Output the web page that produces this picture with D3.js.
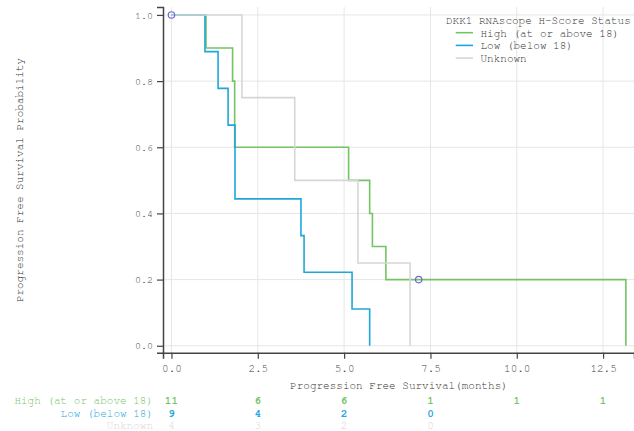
<!DOCTYPE html>
<html>
<head>
<meta charset="utf-8">
<script src="https://cdn.jsdelivr.net/npm/d3@7"></script>
<style>
  body { margin: 0; background: #fff; }
  svg { font-family: "Nimbus Mono PS", "Nimbus Mono L", FreeMono, "Courier New", Courier, "Liberation Mono", monospace; }
  .grid line { stroke: #e6e6e6; stroke-width: 1; }
  .axis path, .axis line { stroke: #444; }
  .axis path { stroke-width: 1.5; }
  .axis text { fill: #444; }
</style>
</head>
<body>
<svg id="chart" width="634" height="431"></svg>
<script>
// Kaplan-Meier steps
var groups = ["High (at or above 18)", "Low (below 18)", "Unknown"];
var colors = ["#74c365", "#1fa6dc", "#d6d6d6"];

var highTimes = [0, 1.0, 1.77, 1.83, 5.13, 5.74, 5.82, 6.21, 13.16];
var highSurv  = [1, 0.9, 0.8, 0.6, 0.5, 0.4, 0.3, 0.2, 0];
var lowTimes  = [0, 0.97, 1.35, 1.64, 1.84, 3.75, 3.84, 5.23, 5.74];
var lowSurv   = [1, 0.889, 0.778, 0.667, 0.444, 0.333, 0.222, 0.111, 0];
var unkTimes  = [0, 2.04, 3.57, 5.40, 6.91];
var unkSurv   = [1, 0.75, 0.5, 0.25, 0];

// censoring marks
var censorTimes = [0, 7.16];
var censorSurv  = [1.0, 0.2];

// numbers at risk
var riskTicks   = [0, 2.5, 5, 7.5, 10, 12.5];
var highAtRisk  = [11, 6, 6, 1, 1, 1];
var lowAtRisk   = [9, 4, 2, 0];
var unkAtRisk   = [4, 3, 2, 0];

var xTicks = [0, 2.5, 5, 7.5, 10, 12.5];
var yTicks = [0, 0.2, 0.4, 0.6, 0.8, 1.0];

var svg = d3.select("#chart");

var x = d3.scaleLinear().domain([-0.245, 13.395]).range([163, 634]);
var y = d3.scaleLinear().domain([-0.021, 1.024]).range([352.7, 7]);

// grid
var grid = svg.append("g").attr("class", "grid");
grid.selectAll(".vg").data(xTicks).enter().append("line")
    .attr("x1", d => x(d)).attr("x2", d => x(d))
    .attr("y1", y.range()[1]).attr("y2", y.range()[0]);
grid.selectAll(".hg").data(yTicks).enter().append("line")
    .attr("x1", x.range()[0]).attr("x2", x.range()[1])
    .attr("y1", d => y(d)).attr("y2", d => y(d));

// axes
var xAxis = svg.append("g").attr("class", "axis")
    .attr("transform", "translate(0," + y.range()[0] + ")")
    .call(d3.axisBottom(x).tickValues(xTicks).tickFormat(d3.format(".1f")).tickSizeOuter(0).tickSize(6).tickPadding(6));
xAxis.attr("font-family", null);
xAxis.selectAll("text").style("font-size", "11px");

var yAxis = svg.append("g").attr("class", "axis")
    .attr("transform", "translate(" + x.range()[0] + ",0)")
    .call(d3.axisLeft(y).tickValues(yTicks).tickFormat(d3.format(".1f")).tickSizeOuter(0).tickSize(6).tickPadding(4));
yAxis.attr("font-family", null);
yAxis.selectAll("text").style("font-size", "10px");
yAxis.selectAll(".tick line").attr("stroke-width", 1.2);
xAxis.selectAll(".tick line").attr("stroke-width", 1.2);

// curves
var series = [
  { t: highTimes, s: highSurv },
  { t: lowTimes,  s: lowSurv },
  { t: unkTimes,  s: unkSurv }
];
var line = d3.line().curve(d3.curveStepAfter).x(d => x(d[0])).y(d => y(d[1]));

series.forEach(function(ser, i) {
  var pts = ser.t.map((t, j) => [t, ser.s[j]]);
  svg.append("path")
      .datum(pts)
      .attr("d", line)
      .attr("fill", "none")
      .attr("stroke", colors[i])
      .attr("stroke-width", 1.6);
});

// censor marks
svg.selectAll(".censor").data(censorTimes).enter().append("circle")
    .attr("cx", d => x(d))
    .attr("cy", (d, i) => y(censorSurv[i]))
    .attr("r", 3.2)
    .attr("fill", "none")
    .attr("stroke", "#6b6bd0")
    .attr("stroke-width", 1.2);

// axis titles
svg.append("text")
    .attr("x", 399).attr("y", 389)
    .attr("text-anchor", "middle")
    .style("font-size", "11px").attr("fill", "#333")
    .text("Progression Free Survival(months)");

svg.append("text")
    .attr("transform", "translate(23,180) rotate(-90)")
    .attr("text-anchor", "middle")
    .style("font-size", "11px").attr("fill", "#333")
    .text("Progression Free Survival Probability");

// legend
var legend = svg.append("g");
legend.append("text")
    .attr("x", 446).attr("y", 24)
    .style("font-size", "11px").attr("fill", "#333")
    .text("DKK1 RNAscope H-Score Status");
groups.forEach(function(g, i) {
  var ly = 32.7 + i * 12.7;
  legend.append("line")
      .attr("x1", 455.7).attr("x2", 473)
      .attr("y1", ly).attr("y2", ly)
      .attr("stroke", colors[i]).attr("stroke-width", 1.6);
  legend.append("text")
      .attr("x", 480.5).attr("y", ly + 3.8)
      .style("font-size", "11px").attr("fill", "#333")
      .text(g);
});

// at-risk table
var riskRows = [highAtRisk, lowAtRisk, unkAtRisk];
riskRows.forEach(function(row, i) {
  var ry = 404 + i * 12.5;
  svg.append("text")
      .attr("x", 153).attr("y", ry)
      .attr("text-anchor", "end")
      .style("font-size", "11px").attr("fill", colors[i])
      .text(groups[i]);
  svg.selectAll(".risk" + i).data(row).enter().append("text")
      .attr("x", (d, j) => x(riskTicks[j]))
      .attr("y", ry)
      .attr("text-anchor", "middle")
      .style("font-size", "11px")
      .style("font-weight", i < 2 ? "bold" : "normal")
      .attr("fill", colors[i])
      .text(d => d);
});
</script>
</body>
</html>
